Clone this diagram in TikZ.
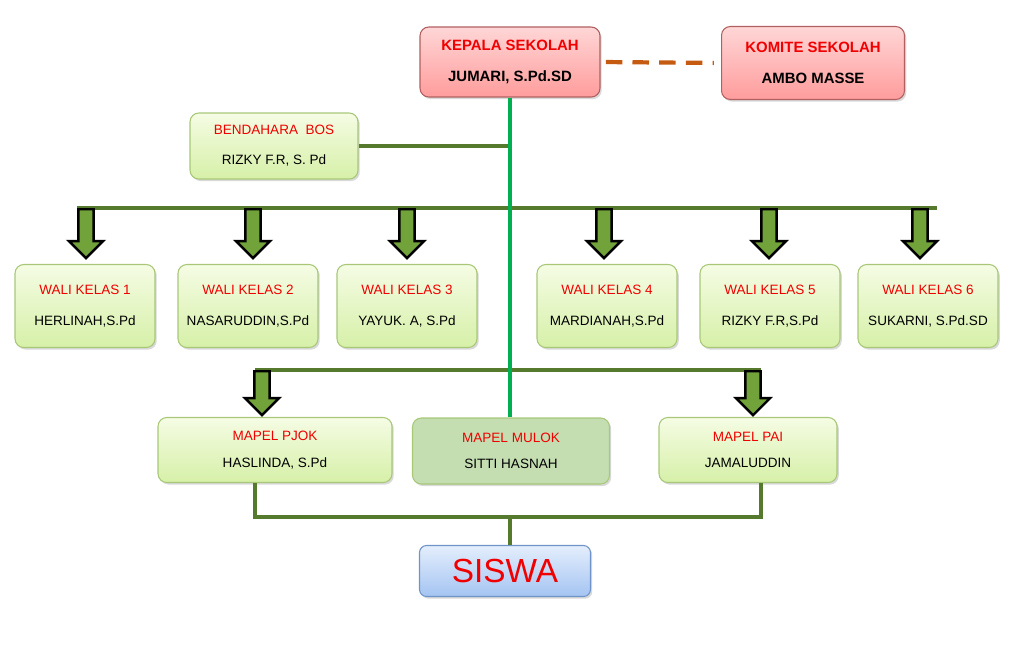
\documentclass[tikz,border=0pt]{standalone}
\usepackage{fontspec}
\setmainfont{Liberation Sans}
\usetikzlibrary{positioning, shapes.arrows, shadows, calc}

\definecolor{linegreen}{HTML}{557A2E}
\definecolor{maingreen}{HTML}{00B050}
\definecolor{dashorange}{HTML}{C55A11}
\definecolor{arrowgreen}{HTML}{72A23A}
\definecolor{boxborder}{HTML}{A8C878}
\definecolor{headborder}{HTML}{B06060}
\definecolor{siswaborder}{HTML}{7094C8}
\definecolor{titlered}{HTML}{F00000}

\begin{document}
\begin{tikzpicture}[x=0.02cm, y=-0.02cm,
    headbox/.style={rectangle, draw=headborder, line width=0.6pt, rounded corners=5pt,
                    top color={rgb,255:red,255;green,214;blue,214}, bottom color={rgb,255:red,255;green,156;blue,156},
                    align=center, font=\fontsize{8.5}{10}\selectfont\bfseries,
                    drop shadow={shadow xshift=1pt, shadow yshift=-1.2pt, opacity=0.3}},
    staffbox/.style={rectangle, draw=boxborder, line width=0.6pt, rounded corners=5pt,
                     top color={rgb,255:red,245;green,252;blue,228}, bottom color={rgb,255:red,214;green,240;blue,168},
                     align=center, font=\fontsize{7.7}{9}\selectfont,
                     drop shadow={shadow xshift=1pt, shadow yshift=-1.2pt, opacity=0.3}},
    mulokbox/.style={staffbox, top color={rgb,255:red,196;green,222;blue,178}, bottom color={rgb,255:red,196;green,222;blue,178}},
    siswabox/.style={rectangle, draw=siswaborder, line width=0.6pt, rounded corners=4pt,
                     top color={rgb,255:red,228;green,238;blue,252}, bottom color={rgb,255:red,164;green,196;blue,242},
                     minimum width=3.42cm, minimum height=1.02cm,
                     drop shadow={shadow xshift=1pt, shadow yshift=-1.2pt, opacity=0.3}},
    bigarrow/.style={single arrow, draw=black, fill=arrowgreen, line width=1.4pt, shape border rotate=270,
                     inner sep=3.6pt, minimum width=0.66cm, single arrow head extend=5.4pt, anchor=tail},
    branch/.style={draw=linegreen, line width=1.8pt},
    trunk/.style={draw=maingreen, line width=1.8pt},
    advice/.style={draw=dashorange, line width=2.4pt, dash pattern=on 9.4pt off 5.8pt}
]
    \useasboundingbox (0,0) rectangle (1024,650);

    % === Top ===
    \node[headbox, minimum width=3.6cm, minimum height=1.4cm] (kepala) at (510,62)
        {\textcolor{titlered}{KEPALA SEKOLAH}\\[8pt]JUMARI, S.Pd.SD};
    \node[headbox, minimum width=3.66cm, minimum height=1.46cm] (komite) at (813,63)
        {\textcolor{titlered}{KOMITE SEKOLAH}\\[8pt]AMBO MASSE};
    \node[staffbox, minimum width=3.36cm, minimum height=1.32cm] (bendahara) at (274,146)
        {\textcolor{titlered}{BENDAHARA~~BOS}\\[8pt]RIZKY F.R, S. Pd};

    % === Wali kelas ===
    \foreach \i/\x/\guru in {1/85/{HERLINAH,S.Pd}, 2/248/{NASARUDDIN,S.Pd}, 3/407/{YAYUK. A, S.Pd},
                             4/607/{MARDIANAH,S.Pd}, 5/770/{RIZKY F.R,S.Pd}, 6/928/{SUKARNI, S.Pd.SD}}
        \node[staffbox, minimum width=2.8cm, minimum height=1.66cm] (wali\i) at (\x,306)
            {\textcolor{titlered}{WALI KELAS \i}\\[9pt]\guru};

    % === Mapel ===
    \node[staffbox, minimum width=4.68cm, minimum height=1.3cm] (pjok) at (275,450)
        {\textcolor{titlered}{MAPEL PJOK}\\[6pt]HASLINDA, S.Pd};
    \node[mulokbox, minimum width=3.94cm, minimum height=1.32cm] (mulok) at (511,451)
        {\textcolor{titlered}{MAPEL MULOK}\\[6pt]SITTI HASNAH};
    \node[staffbox, minimum width=3.56cm, minimum height=1.3cm] (pai) at (748,450)
        {\textcolor{titlered}{MAPEL PAI}\\[6pt]JAMALUDDIN};

    % === Siswa ===
    \node[siswabox] (siswa) at (505,571)
        {\textcolor{titlered}{\fontsize{19}{22}\selectfont SISWA}};

    % Lines
    \draw[advice, shorten <=3pt, shorten >=4pt] (kepala.east) -- (komite.west);
    \draw[branch] (bendahara.east) -- (bendahara.east -| kepala.south);

    \coordinate (busL) at (77,208);
    \coordinate (busR) at (937,208);
    \draw[branch] (busL) -- (busR);

    \coordinate (mapL) at (255,370);
    \coordinate (mapR) at (761,370);
    \draw[branch] (mapL) -- (mapR);

    \draw[trunk] (kepala.south) -- (kepala.south |- mulok.north);

    \coordinate (botL) at (255,517);
    \coordinate (botR) at (761,517);
    \draw[branch] (pjok.south -| botL) -- (botL) -- (botR) -- (pai.south -| botR);
    \draw[branch] (siswa.north -| kepala.south) ++(0,-29) coordinate (botM) -- (siswa.north -| botM);

    % Arrows
    \foreach \i/\x in {1/86, 2/253, 3/407, 4/604, 5/769, 6/920} {
        \coordinate (a\i) at (\x,208);
        \path let \p1=(a\i), \p2=(wali\i.north) in
            node[bigarrow, minimum height={\y1-\y2-4pt}] at (a\i) {};
    }
    \coordinate (m1) at (262,370);
    \coordinate (m2) at (753,370);
    \path let \p1=(m1), \p2=(pjok.north) in node[bigarrow, minimum height={\y1-\y2-1.7pt}] at (m1) {};
    \path let \p1=(m2), \p2=(pai.north) in node[bigarrow, minimum height={\y1-\y2-1.7pt}] at (m2) {};

\end{tikzpicture}
\end{document}
